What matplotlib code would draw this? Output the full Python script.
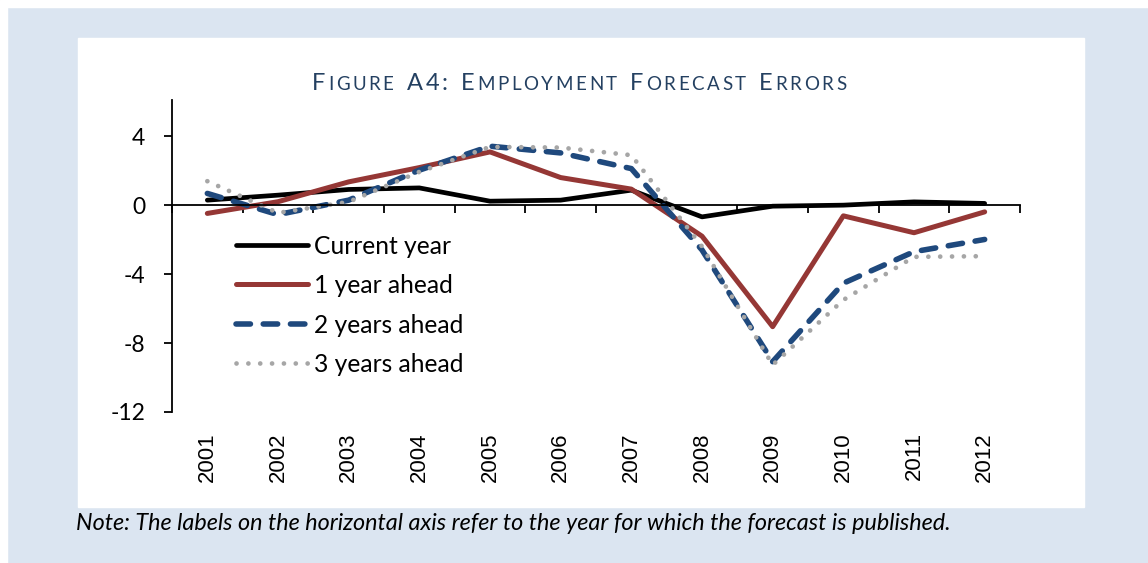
import matplotlib.pyplot as plt
import matplotlib.transforms as mtransforms
from matplotlib.patches import Rectangle
import numpy as np

# Data
years = ["2001", "2002", "2003", "2004", "2005", "2006",
         "2007", "2008", "2009", "2010", "2011", "2012"]
current_year = [0.29, 0.58, 0.91, 1.0, 0.23, 0.29, 0.87, -0.68, -0.06, 0.0, 0.19, 0.1]
one_year = [-0.48, 0.2, 1.35, 2.18, 3.09, 1.6, 0.93, -1.8, -7.05, -0.62, -1.6, -0.39]
two_years = [0.68, -0.55, 0.29, 2.03, 3.42, 3.03, 2.12, -2.6, -9.08, -4.53, -2.7, -1.99]
three_years = [1.39, -0.45, 0.19, 1.93, 3.38, 3.34, 2.9, -2.4, -9.27, -5.5, -3.0, -2.96]
y_ticks = [4, 0, -4, -8, -12]

BG = "#DBE5F1"
W, H = 1148, 563
fig = plt.figure(figsize=(W / 100, H / 100), dpi=100, facecolor=BG)

# white margins top/left and the white chart panel
fig.patches.append(Rectangle((0, 1 - 7 / H), 1, 7 / H, transform=fig.transFigure, color="white", zorder=-2))
fig.patches.append(Rectangle((0, 0), 7 / W, 1, transform=fig.transFigure, color="white", zorder=-2))
fig.patches.append(Rectangle((78 / W, (H - 507) / H), 1006 / W, 469 / H,
                             transform=fig.transFigure, color="white", zorder=-1))

ax = fig.add_axes([172 / W, (H - 412) / H, 848 / W, 312 / H])
ax.set_facecolor("none")
x = np.arange(len(years))

ax.plot(x, current_year, color="black", lw=3.4, solid_capstyle="round", label="Current year")
ax.plot(x, one_year, color="#953735", lw=3.6, solid_capstyle="round", label="1 year ahead")
ax.plot(x, two_years, color="#1F497D", lw=4, dashes=(2.6, 2.3), dash_capstyle="round",
        label="2 years ahead")
ax.plot(x, three_years, color="#A6A6A6", lw=3.4, dashes=(0.01, 2.5), dash_capstyle="round",
        label="3 years ahead")

ax.set_xlim(-0.5, len(years) - 0.5)
ax.set_ylim(-12, 6.1)
for s in ["top", "right"]:
    ax.spines[s].set_visible(False)
ax.spines["bottom"].set_position(("data", 0))
ax.spines["left"].set_linewidth(1.3)
ax.spines["bottom"].set_linewidth(1.3)

ax.set_xticks(np.arange(-0.5, len(years), 1.0))
ax.set_xticklabels([])
ax.tick_params(axis="x", direction="out", length=5.8, width=1.3)
ax.set_yticks(y_ticks)
ax.set_yticklabels([str(v) for v in y_ticks], fontsize=16.5, family="Lato")
ax.tick_params(axis="y", direction="out", length=5.8, width=1.3, pad=13.5)

# year labels sit at the bottom of the plot area, not on the zero line
trans = mtransforms.blended_transform_factory(ax.transData, ax.transAxes)
for i, yr in enumerate(years):
    ax.annotate(yr, xy=(x[i], 0), xycoords=trans, xytext=(0, -14.5), textcoords="offset points",
                rotation=90, ha="center", va="top", fontsize=16, family="Liberation Sans")

leg = ax.legend(loc="upper left", bbox_to_anchor=(0.064, 0.6), frameon=False,
                prop={"family": "Lato", "size": 17.7}, handlelength=2.93, handletextpad=0.22,
                labelspacing=0.67, borderaxespad=0)

# small-caps title
renderer = fig.canvas.get_renderer()
title_parts = [("F", 17), ("IGURE", 13.5), (" ", 0), ("A4:", 17), (" ", 0), ("E", 17),
               ("MPLOYMENT", 13.5), (" ", 0), ("F", 17), ("ORECAST", 13.5), (" ", 0),
               ("E", 17), ("RRORS", 13.5)]
tracking = 2.6
space_w = 8
glyphs = []
for txt, size in title_parts:
    if txt == " ":
        glyphs.append((None, space_w))
        continue
    for ch in txt:
        t = fig.text(0, 0, ch, fontsize=size, family="Lato", color="#244061")
        w = t.get_window_extent(renderer).width
        glyphs.append((t, w))
total = sum(w + tracking for _, w in glyphs) - tracking
xpos = 579 - total / 2
for t, w in glyphs:
    if t is not None:
        t.set_position((xpos / W, (H - 90) / H))
    xpos += w + tracking

fig.text(76 / W, (H - 523) / H,
         "Note: The labels on the horizontal axis refer to the year for which the forecast is published.",
         fontsize=16.8, family="Lato", style="italic", va="center", ha="left")

fig.savefig("out.png", dpi=100, facecolor=BG)
